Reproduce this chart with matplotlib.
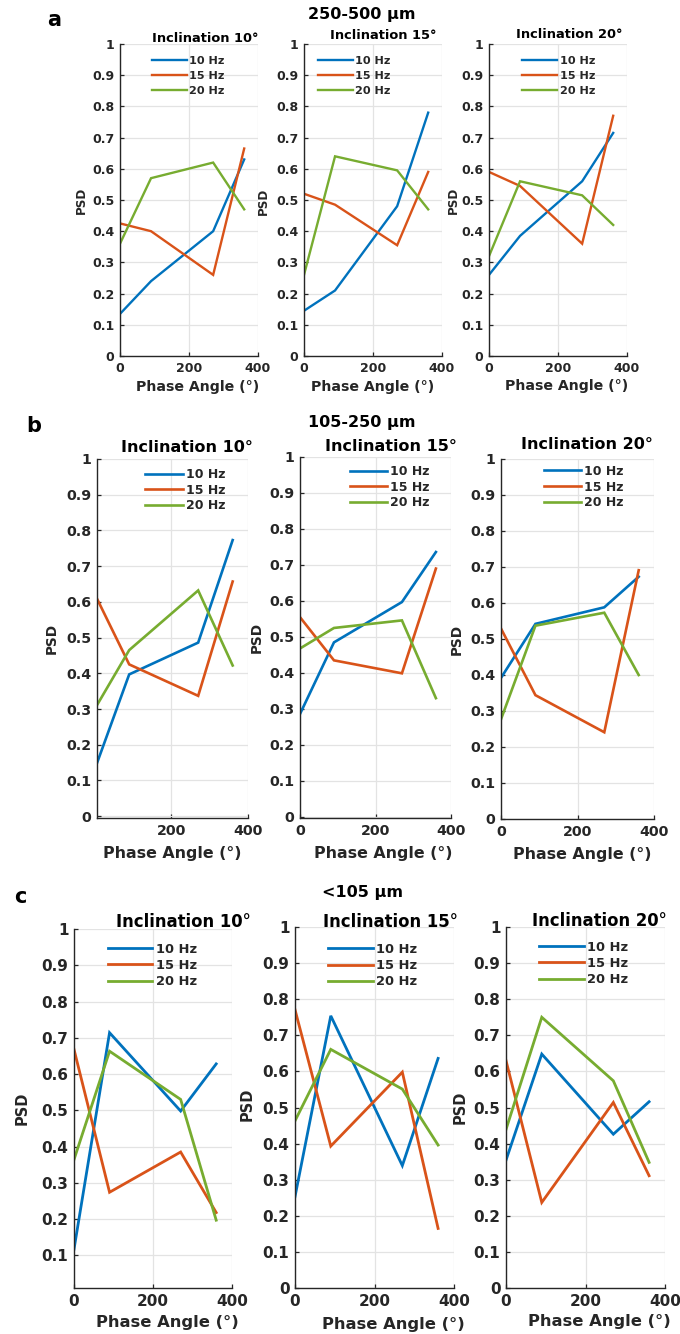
import matplotlib
matplotlib.use("Agg")
import matplotlib.pyplot as plt
from matplotlib.ticker import FuncFormatter

plt.rcParams['font.family'] = ['DejaVu Sans']
plt.rcParams['font.weight'] = 'bold'

W, H = 680, 1334
phase = [0, 90, 270, 360]
freq_labels = ["10 Hz", "15 Hz", "20 Hz"]
colors = ["#0072BD", "#D95319", "#77AC30"]
inclinations = ["Inclination 10°", "Inclination 15°", "Inclination 20°"]
group_titles = ["250-500 μm", "105-250 μm", "<105 μm"]
panel_letters = ["a", "b", "c"]
y_ticks = [0, 0.1, 0.2, 0.3, 0.4, 0.5, 0.6, 0.7, 0.8, 0.9, 1.0]
x_ticks = [0, 200, 400]

# Row a: 250-500 um
a_inc10_10 = [0.135, 0.24, 0.40, 0.63]
a_inc10_15 = [0.425, 0.40, 0.26, 0.665]
a_inc10_20 = [0.36, 0.57, 0.62, 0.47]
a_inc15_10 = [0.145, 0.21, 0.48, 0.78]
a_inc15_15 = [0.52, 0.485, 0.355, 0.59]
a_inc15_20 = [0.26, 0.64, 0.595, 0.47]
a_inc20_10 = [0.26, 0.385, 0.56, 0.715]
a_inc20_15 = [0.59, 0.545, 0.36, 0.77]
a_inc20_20 = [0.32, 0.56, 0.515, 0.42]
# Row b: 105-250 um
b_inc10_10 = [0.131, 0.397, 0.486, 0.773]
b_inc10_15 = [0.622, 0.425, 0.337, 0.657]
b_inc10_20 = [0.300, 0.465, 0.632, 0.422]
b_inc15_10 = [0.286, 0.485, 0.597, 0.736]
b_inc15_15 = [0.555, 0.435, 0.399, 0.69]
b_inc15_20 = [0.468, 0.525, 0.546, 0.33]
b_inc20_10 = [0.392, 0.542, 0.588, 0.673]
b_inc20_15 = [0.529, 0.344, 0.241, 0.691]
b_inc20_20 = [0.277, 0.537, 0.573, 0.40]
# Row c: <105 um
c_inc10_10 = [0.117, 0.714, 0.498, 0.628]
c_inc10_15 = [0.668, 0.274, 0.385, 0.218]
c_inc10_20 = [0.364, 0.663, 0.53, 0.197]
c_inc15_10 = [0.253, 0.754, 0.339, 0.636]
c_inc15_15 = [0.771, 0.393, 0.598, 0.165]
c_inc15_20 = [0.463, 0.661, 0.551, 0.396]
c_inc20_10 = [0.354, 0.648, 0.426, 0.516]
c_inc20_15 = [0.63, 0.237, 0.514, 0.311]
c_inc20_20 = [0.439, 0.75, 0.574, 0.348]

data = [
    [[a_inc10_10, a_inc10_15, a_inc10_20], [a_inc15_10, a_inc15_15, a_inc15_20], [a_inc20_10, a_inc20_15, a_inc20_20]],
    [[b_inc10_10, b_inc10_15, b_inc10_20], [b_inc15_10, b_inc15_15, b_inc15_20], [b_inc20_10, b_inc20_15, b_inc20_20]],
    [[c_inc10_10, c_inc10_15, c_inc10_20], [c_inc15_10, c_inc15_15, c_inc15_20], [c_inc20_10, c_inc20_15, c_inc20_20]],
]

# layout (pixel boxes: left, right, top, bottom)
boxes = [
    [(120, 258, 44, 356), (304, 442, 44, 356), (489, 627, 44, 356)],
    [(97, 248, 459, 818), (300, 451, 457, 818), (501, 654, 459, 819)],
    [(74, 232, 929, 1288), (295, 454, 927, 1288), (506, 665, 927, 1288)],
]
xlims = [[(0, 400)] * 3, [(6, 400), (0, 400), (0, 400)], [(0, 400)] * 3]
ylims = [[(0, 1)] * 3, [(-0.005, 1), (-0.003, 1), (0, 1)], [(0.01, 1), (0, 1), (0, 1)]]
tick_fs = [9.0, 10.2, 11.0]
title_fs = [9.4, 11.5, 11.9]
xlabel_fs = [10.2, 11.4, 11.8]
ylabel_fs = [8.6, 9.8, 10.5]
leg_fs = [8.1, 9.0, 9.4]
leg_spacing = [0.45, 0.22, 0.25]
handle_len = [3.1, 3.0, 3.4]
lw = [1.7, 1.9, 2.0]
leg_pos = [[(0.23, 0.962), (0.10, 0.962), (0.24, 0.962)],
           [(0.318, 0.975), (0.33, 0.978), (0.28, 0.984)],
           [(0.215, 0.962), (0.21, 0.956), (0.21, 0.962)]]
title_pos = [[(0.616, 1.019), (0.572, 1.026), (0.58, 1.032)],
             [(0.596, 1.031), (0.60, 1.028), (0.56, 1.039)],
             [(0.69, 1.019), (0.60, 1.014), (0.59, 1.017)]]
xlabel_pos = [[(0.56, -0.099), (0.50, -0.099), (0.565, -0.096)],
              [(0.50, -0.098), (0.55, -0.098), (0.53, -0.10)],
              [(0.59, -0.097), (0.62, -0.102), (0.585, -0.094)]]
ylabel_pos = [[(-0.283, 0.5), (-0.297, 0.494), (-0.26, 0.5)],
              [(-0.298, 0.5), (-0.285, 0.5), (-0.288, 0.5)],
              [(-0.33, 0.5), (-0.30, 0.51), (-0.29, 0.5)]]
group_pos = [(362, 14), (362, 422), (362, 892)]
letter_pos = [(54, 20), (34, 426), (20, 897)]

fig = plt.figure(figsize=(W / 100, H / 100), dpi=100)
dark = "#262626"


def fmt(v, _):
    s = f"{v:.1f}"
    if s == "0.0":
        return "0"
    if s == "1.0":
        return "1"
    return s


for r in range(3):
    for c in range(3):
        l, rr, t, b = boxes[r][c]
        ax = fig.add_axes([l / W, 1 - b / H, (rr - l) / W, (b - t) / H])
        for k in range(3):
            ax.plot(phase, data[r][c][k], color=colors[k], lw=lw[r], label=freq_labels[k], solid_joinstyle='miter')
        ax.set_xlim(*xlims[r][c])
        ax.set_ylim(*ylims[r][c])
        ax.set_xticks([x for x in x_ticks if xlims[r][c][0] <= x <= xlims[r][c][1]])
        ax.set_yticks([y for y in y_ticks if ylims[r][c][0] <= y <= ylims[r][c][1]])
        ax.yaxis.set_major_formatter(FuncFormatter(fmt))
        ax.grid(True, color="#e3e3e3", lw=0.9)
        ax.set_axisbelow(True)
        for s in ["top", "right"]:
            ax.spines[s].set_visible(False)
        for s in ["left", "bottom"]:
            ax.spines[s].set_color(dark)
            ax.spines[s].set_linewidth(1.0)
        ax.tick_params(direction="in", length=3, width=0.9, colors=dark, labelsize=tick_fs[r], pad=4)
        for lab in ax.get_xticklabels() + ax.get_yticklabels():
            lab.set_fontweight("bold")
        ax.set_xlabel("Phase Angle (°)", fontsize=xlabel_fs[r], fontweight="bold", color=dark, va="center")
        ax.xaxis.set_label_coords(*xlabel_pos[r][c])
        ax.set_ylabel("PSD", fontsize=ylabel_fs[r], fontweight="bold", color=dark, va="center")
        ax.yaxis.set_label_coords(*ylabel_pos[r][c])
        ax.text(title_pos[r][c][0], title_pos[r][c][1], inclinations[c], transform=ax.transAxes,
                ha="center", va="center", fontsize=title_fs[r], fontweight="bold", color="black")
        leg = ax.legend(loc="upper left", bbox_to_anchor=leg_pos[r][c], frameon=False,
                        handlelength=handle_len[r], handletextpad=0.25,
                        labelspacing=leg_spacing[r], borderpad=0, borderaxespad=0,
                        prop={"weight": "bold", "size": leg_fs[r]})
        for txt in leg.get_texts():
            txt.set_color(dark)

for r in range(3):
    fig.text(group_pos[r][0] / W, 1 - group_pos[r][1] / H, group_titles[r], ha="center", va="center",
             fontsize=11.5, fontweight="bold", color="black")
    fig.text(letter_pos[r][0] / W, 1 - letter_pos[r][1] / H, panel_letters[r], ha="center", va="center",
             fontsize=15, fontweight="bold", color="black")

fig.savefig("out.png", dpi=100)
